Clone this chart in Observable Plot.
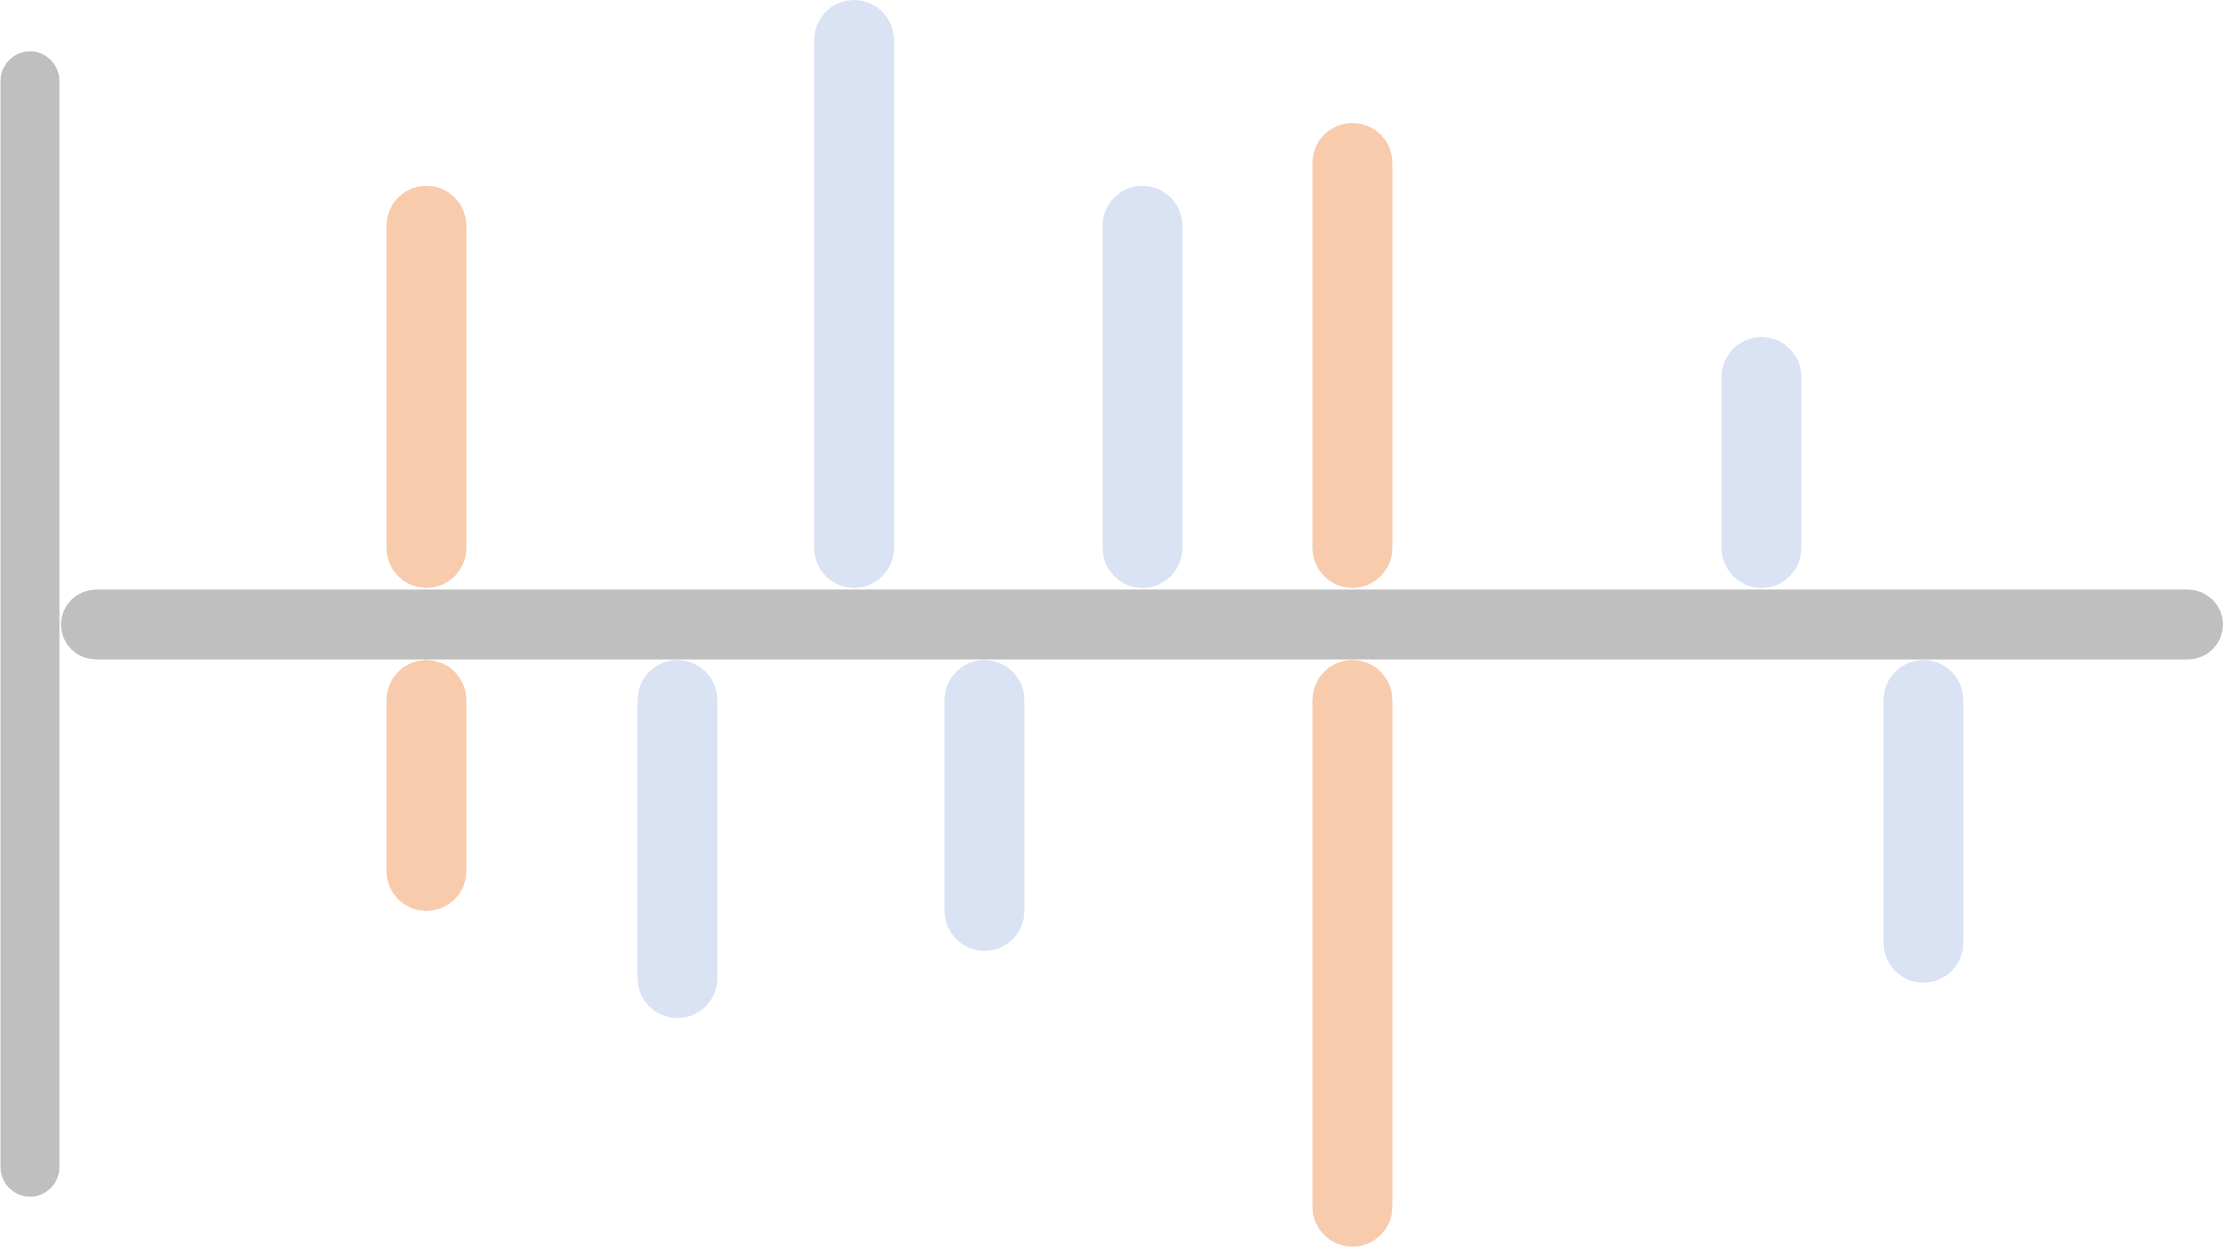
<!DOCTYPE html>
<html>
<head>
<meta charset="utf-8">
<script src="https://cdn.jsdelivr.net/npm/d3@7"></script>
<script src="https://cdn.jsdelivr.net/npm/@observablehq/plot@0.6"></script>
<style>
  html, body { margin: 0; padding: 0; background: #ffffff; overflow: hidden; }
  #chart svg { display: block; }
</style>
</head>
<body>
<div id="chart"></div>
<script>
// Series names and colours
const seriesNames = ["A", "B"];
const seriesColors = ["#F8CBAD", "#DAE3F3"];

// Bars above the baseline
const upperX = [16.88, 36.66, 50.0, 59.71, 78.63];
const upperValue = [68.4, 100, 68.4, 79.1, 42.7];
const upperSeries = ["A", "B", "B", "A", "B"];

// Bars below the baseline
const lowerX = [16.88, 28.49, 42.69, 59.71, 86.12];
const lowerValue = [42.7, 60.9, 49.5, 99.8, 54.9];
const lowerSeries = ["A", "B", "B", "A", "B"];

// Axis extents
const xExtent = [0, 100];
const yExtent = [-100, 100];
const vAxisExtent = [-97.4, 97.4];

const upper = upperX.map((x, i) => ({x, value: upperValue[i], series: upperSeries[i]}));
const lower = lowerX.map((x, i) => ({x, value: -lowerValue[i], series: lowerSeries[i]}));

const axisGray = "#BFBFBF";
const barW = 80;
const gap = 36;

const chart = Plot.plot({
  width: 2223,
  height: 1248,
  marginLeft: 61,
  marginRight: 0,
  marginTop: 36,
  marginBottom: 36,
  style: {background: "#ffffff"},
  x: {domain: xExtent, axis: null},
  y: {domain: yExtent, axis: null},
  color: {domain: seriesNames, range: seriesColors},
  marks: [
    // vertical axis bar
    Plot.ruleX([0], {
      x: () => xExtent[0],
      y1: () => vAxisExtent[1], y2: () => vAxisExtent[0],
      insetTop: 29.5, insetBottom: 29.5, dx: -31.5,
      stroke: axisGray, strokeWidth: 59, strokeLinecap: "round"
    }),
    // horizontal baseline bar
    Plot.ruleY([0], {
      y: () => 0,
      x1: () => xExtent[0], x2: () => xExtent[1],
      insetLeft: 35, insetRight: 35,
      stroke: axisGray, strokeWidth: 70, strokeLinecap: "round"
    }),
    // upper bars
    Plot.ruleX(upper, {
      x: "x", y1: "value", y2: () => 0,
      insetTop: barW / 2, insetBottom: barW / 2, dy: -gap,
      stroke: "series", strokeWidth: barW, strokeLinecap: "round"
    }),
    // lower bars
    Plot.ruleX(lower, {
      x: "x", y1: () => 0, y2: "value",
      insetTop: barW / 2, insetBottom: barW / 2, dy: gap,
      stroke: "series", strokeWidth: barW, strokeLinecap: "round"
    })
  ]
});
document.getElementById("chart").appendChild(chart);
</script>
</body>
</html>
